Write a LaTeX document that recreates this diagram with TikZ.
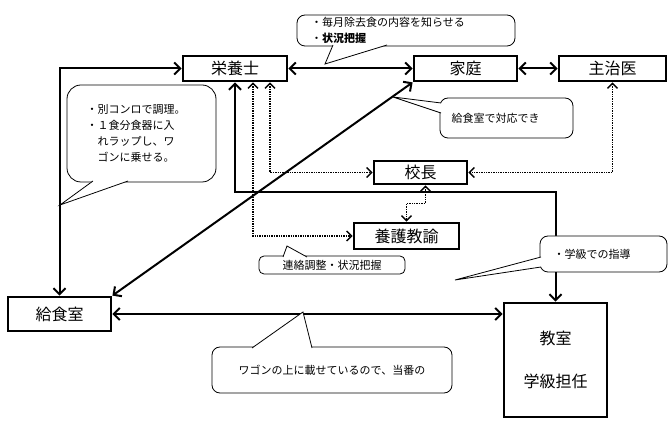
\documentclass[tikz,border=0pt]{standalone}
\usepackage{fontspec}
\setmainfont{Noto Sans CJK JP}
\usetikzlibrary{calc,arrows.meta}

\begin{document}
\begin{tikzpicture}[x=1pt,y=-1pt,
	box/.style={draw,line width=2.8pt,inner sep=0pt,font=\fontsize{16}{18}\selectfont},
	memo/.style={draw,fill=white,line width=0.8pt,rounded corners=8pt,inner sep=0pt,font=\fontsize{11}{16}\selectfont},
	tail/.style={fill=white,line width=0.8pt},
	link/.style={line width=2pt,{Straight Barb[length=6pt,width=12pt]}-{Straight Barb[length=6pt,width=12pt]}},
	dlink/.style={line width=1.4pt,densely dotted,{Straight Barb[length=5pt,width=10pt]}-{Straight Barb[length=5pt,width=10pt]}}]
			%%%%% START %%%%%
			
			\useasboundingbox (0,0) rectangle (670,430);
			
			\node[box,minimum width=104,minimum height=25] (eiyo) at (235,68.5) {栄養士};
			\node[box,minimum width=103,minimum height=25] (katei) at (465.5,68.5) {家庭};
			\node[box,minimum width=107,minimum height=25] (shuji) at (612.5,68.5) {主治医};
			\node[box,minimum width=93,minimum height=23] (kocho) at (420.5,172.5) {校長};
			\node[box,minimum width=105,minimum height=26] (yogo) at (406.5,236) {養護教諭};
			\node[box,minimum width=103,minimum height=34] (kyushoku) at (59.5,314) {給食室};
			\node[box,minimum width=103,minimum height=114,align=center] (kyoshitsu) at (555.5,360) {教室\\[25pt]学級担任};
			
			\draw[link] (eiyo.east) -- (katei.west);
			\draw[link] (katei.east) -- (shuji.west);
			\draw[link] (eiyo.west) -| (kyushoku.north);
			\draw[link] (eiyo.south) -- ++(0,110) -| (kyoshitsu.north);
			\draw[link] (kyushoku.north east) -- (katei.south west);
			\draw[link] (kyushoku.east) -- (kyushoku.east -| kyoshitsu.west);
			
			\draw[dlink] ($(eiyo.south)+(18,0)$) |- (yogo.west);
			\draw[dlink] ($(eiyo.south)+(35,0)$) |- (kocho.west);
			\draw[dlink] (shuji.south) |- (kocho.east);
			\draw[dlink] ($(kocho.south)+(5,0)$) -- ++(0,18) -| (yogo.north);
			
			\node[memo,minimum width=218,minimum height=31,text width=190,align=left] (memo1) at (406,30.5) {・毎月除去食の内容を知らせる\\・\textbf{状況把握}};
			\filldraw[tail] (333,45) -- (325,64) -- (387,45);
			
			\node[memo,minimum width=149,minimum height=97,rounded corners=14pt,text width=110,align=left] (memo2) at (141.5,133.5) {・別コンロで調理。\\・１食分食器に入\\　れラップし、ワ\\　ゴンに乗せる。};
			\filldraw[tail] (93,181) -- (60,205) -- (128,181);
			
			\node[memo,minimum width=133,minimum height=40,text width=110,align=left] (memo3) at (506.5,118) {給食室で対応でき};
			\filldraw[tail] (441,103) -- (393,97) -- (441,113);
			
			\node[memo,minimum width=146,minimum height=18,rounded corners=5pt] (memo4) at (332,265) {連絡調整・状況把握};
			\filldraw[tail] (283,257) -- (287,246) -- (307,257);
			
			\node[memo,minimum width=127,minimum height=36,text width=100,align=left] (memo5) at (603.5,254) {・学級での指導};
			\filldraw[tail] (541,257) -- (455,280) -- (541,267);
			
			\node[memo,minimum width=240,minimum height=46] (memo6) at (332,370) {ワゴンの上に載せているので、当番の};
			\filldraw[tail] (252,348) -- (303,312) -- (312,348);
			
			%%%%% END %%%%%
		\end{tikzpicture}
\end{document}
